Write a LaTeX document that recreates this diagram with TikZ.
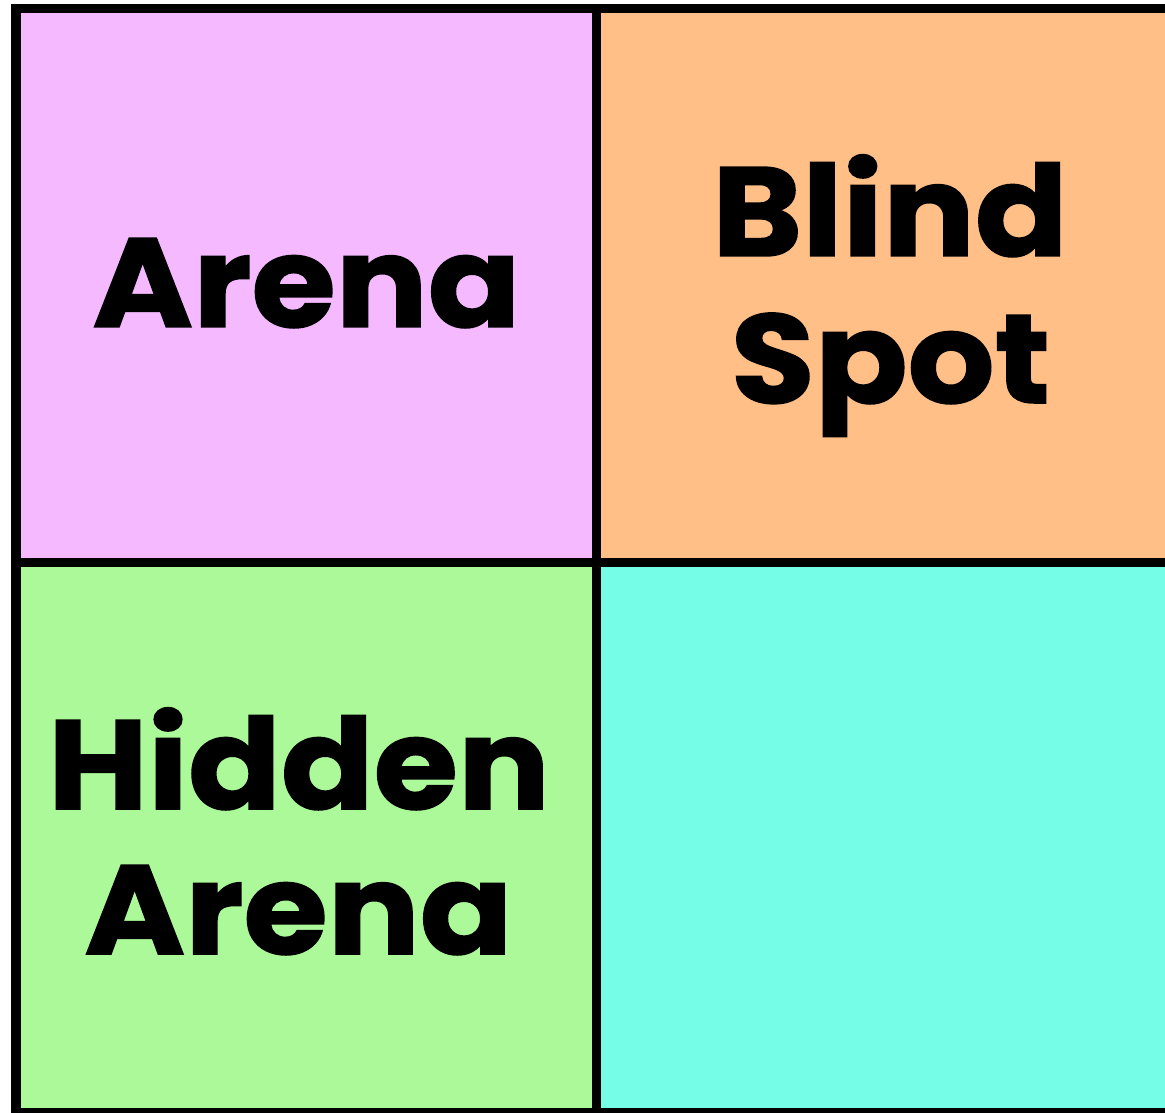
\documentclass[tikz,border=0pt]{standalone}
\usepackage{fontspec}
\setmainfont{Poppins}[BoldFeatures={FakeStretch=1.08,FakeBold=1.2}]
\usepackage{xcolor}
\usepackage{tikz}
\usetikzlibrary{positioning}
\definecolor{arena}{HTML}{F5B9FF}
\definecolor{blind}{HTML}{FFBF87}
\definecolor{hidden}{HTML}{ACF99A}
\definecolor{unknown}{HTML}{76FDE8}
\tikzset{
  grid/.style  = {draw=black, line width=2.4mm},
  word/.style  = {font=\fontsize{90}{100}\selectfont\bfseries\color{black}, anchor=base, inner sep=0pt, outer sep=0pt},
}
\begin{document}
\begin{tikzpicture}[x=0.25mm,y=0.25mm]
\path[use as bounding box] (0,0) rectangle (1165,1113);

% ---- quadrants ----------------------------------------------------------
\fill[arena]   (16,550.5)    rectangle (596.5,1104.5);
\fill[blind]   (596.5,550.5) rectangle (1175,1104.5);
\fill[hidden]  (16,0.5)      rectangle (596.5,550.5);
\fill[unknown] (596.5,0.5)   rectangle (1175,550.5);

% ---- frame and cross ----------------------------------------------------
\draw[grid] (1175,1104.5) -- (16,1104.5) -- (16,0.5) -- (1175,0.5);
\draw[grid] (596.5,1104.5) -- (596.5,0.5);
\draw[grid] (16,550.5) -- (1175,550.5);

% ---- labels -------------------------------------------------------------
\node[word] (arena)   at (306.5,786) {Arena};
\node[word] (blind)   at (890,857)   {Blind};
\node[word] (spot)    at (890.5,710) {Spot};
\node[word] (hidden)  at (299,304)   {Hidden};
\node[word] (arenaii) at (298.5,159) {Arena};

\end{tikzpicture}
\end{document}
